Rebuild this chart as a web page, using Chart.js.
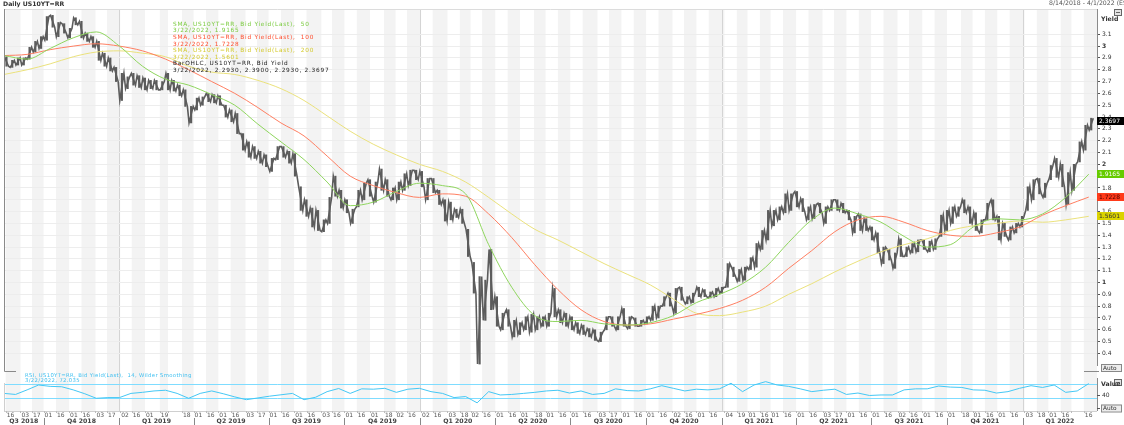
<!DOCTYPE html>
<html><head><meta charset="utf-8">
<script src="https://cdn.jsdelivr.net/npm/chart.js@4.4.1/dist/chart.umd.min.js"></script>
<style>html,body{margin:0;padding:0;background:#fff;}#wrap{width:1124px;height:425px;position:relative;overflow:hidden}canvas{display:block}</style>
</head><body><div id="wrap"><canvas id="c" width="1124" height="425" style="width:1124px;height:425px"></canvas></div>
<script>
// ---------- data ----------
const START = '2018-08-14';
const END = '2022-04-01';
const WEEK_STEP = 7;   // weekly bars (days)
const SMA_STEP = 28;   // SMA samples every 4 weeks
const RSI_STEP = 14;   // RSI samples every 2 weeks

const weekLow = [2.83,2.82,2.84,2.84,2.89,2.95,2.98,3.05,3.16,3.08,3.11,3.07,3.18,3.07,3.04,2.99,2.88,2.83,2.79,2.70,
2.54,2.64,2.67,2.65,2.63,2.64,2.63,2.63,2.63,2.62,2.58,2.49,2.35,2.46,2.50,2.53,2.52,2.50,2.40,2.36,
2.26,2.12,2.06,2.05,2.01,1.98,1.94,2.04,2.06,2.01,1.90,1.61,1.56,1.47,1.44,1.43,1.50,1.73,1.63,1.59,
1.50,1.64,1.70,1.73,1.68,1.78,1.73,1.70,1.70,1.78,1.82,1.87,1.81,1.70,1.76,1.66,1.52,1.53,1.55,1.50,
1.22,0.91,0.31,0.68,0.77,0.63,0.60,0.63,0.54,0.56,0.60,0.58,0.60,0.63,0.63,0.71,0.66,0.63,0.60,0.57,
0.56,0.54,0.51,0.50,0.60,0.63,0.60,0.63,0.61,0.63,0.63,0.65,0.68,0.70,0.80,0.80,0.74,0.85,0.82,0.83,
0.88,0.88,0.87,0.88,0.91,0.96,1.05,1.01,1.02,1.11,1.13,1.28,1.36,1.48,1.53,1.59,1.61,1.64,1.60,1.53,
1.54,1.59,1.50,1.61,1.61,1.59,1.53,1.42,1.44,1.44,1.36,1.25,1.16,1.19,1.12,1.22,1.22,1.25,1.26,1.28,
1.26,1.28,1.39,1.44,1.50,1.56,1.59,1.50,1.44,1.42,1.53,1.53,1.36,1.39,1.36,1.42,1.47,1.61,1.70,1.75,
1.72,1.87,1.89,1.81,1.66,1.78,2.02,2.12,2.29];
const weekHigh = [2.91,2.88,2.90,2.90,2.99,3.04,3.08,3.25,3.26,3.20,3.19,3.15,3.24,3.21,3.11,3.08,3.04,2.94,2.90,2.82,
2.77,2.74,2.77,2.75,2.73,2.71,2.71,2.70,2.77,2.71,2.67,2.63,2.49,2.56,2.57,2.60,2.59,2.58,2.50,2.46,
2.43,2.26,2.19,2.15,2.11,2.08,2.05,2.15,2.15,2.11,2.09,1.81,1.70,1.63,1.61,1.53,1.72,1.90,1.78,1.70,
1.62,1.78,1.84,1.87,1.85,1.96,1.87,1.80,1.85,1.92,1.95,1.95,1.94,1.88,1.88,1.78,1.70,1.68,1.62,1.62,
1.45,1.17,1.05,1.02,1.28,0.88,0.74,0.77,0.68,0.66,0.71,0.73,0.71,0.71,0.74,0.95,0.77,0.74,0.71,0.66,
0.64,0.61,0.60,0.58,0.71,0.71,0.71,0.78,0.71,0.70,0.68,0.71,0.80,0.80,0.88,0.91,0.95,0.96,0.88,0.91,
0.96,0.94,0.92,0.95,0.96,1.16,1.13,1.11,1.13,1.21,1.33,1.44,1.61,1.61,1.64,1.75,1.75,1.77,1.71,1.64,
1.66,1.67,1.64,1.70,1.70,1.67,1.61,1.56,1.58,1.54,1.47,1.42,1.30,1.28,1.25,1.37,1.30,1.33,1.36,1.36,
1.35,1.37,1.57,1.61,1.64,1.64,1.70,1.64,1.59,1.53,1.67,1.70,1.56,1.50,1.47,1.50,1.56,1.81,1.87,1.88,
1.84,1.99,2.05,2.00,1.93,2.00,2.19,2.33,2.39];

const sma50 = [2.92,2.89,2.98,3.07,3.12,3.00,2.83,2.72,2.67,2.59,2.50,2.34,2.19,2.04,1.85,1.65,1.68,1.77,1.84,1.82,
1.75,1.32,0.96,0.72,0.67,0.68,0.65,0.64,0.66,0.72,0.83,0.90,0.99,1.13,1.34,1.53,1.63,1.58,1.51,1.39,
1.30,1.32,1.47,1.54,1.53,1.58,1.72,1.9165];
const sma100 = [2.92,2.93,2.97,3.00,3.02,3.00,2.96,2.89,2.80,2.70,2.60,2.48,2.35,2.24,2.07,1.90,1.82,1.76,1.72,1.75,
1.73,1.58,1.38,1.15,0.94,0.77,0.67,0.64,0.65,0.69,0.73,0.78,0.85,0.96,1.12,1.27,1.43,1.53,1.56,1.51,
1.44,1.40,1.39,1.42,1.47,1.57,1.65,1.7228];
const sma200 = [2.76,2.80,2.85,2.91,2.95,2.96,2.94,2.91,2.83,2.78,2.76,2.71,2.64,2.54,2.41,2.28,2.17,2.08,2.00,1.94,
1.85,1.72,1.58,1.45,1.36,1.26,1.16,1.07,0.98,0.86,0.74,0.72,0.75,0.80,0.90,0.99,1.09,1.18,1.26,1.32,
1.37,1.44,1.48,1.50,1.52,1.51,1.53,1.5601];
const rsi14 = [44,41,54,68,64,63,54,43,30,32,32,44,47,51,53,44,30,44,51,43,
34,26,31,36,40,44,26,33,49,58,44,57,56,58.5,47,56,58.5,49,44,32,
35,17,49,39.5,41,44,47,51,53,45,51,41,44,57,52,51,57,66,58.5,51,
56,54,57,73,49,68,77.6,68,64,57,49,53,56,41,45,38,39.5,39.5,54,57,
57,65,62,61,54,53,45,49,58.5,66,61,68,47,51,72.035];
const rsiLevels = [70, 30];
const lastBar = {date:'3/22/2022', open:2.2930, high:2.3900, low:2.2930, close:2.3697};

const yTicks = [0.4,0.5,0.6,0.7,0.8,0.9,1.0,1.1,1.2,1.3,1.4,1.5,1.6,1.7,1.8,1.9,2.0,2.1,2.2,2.3,2.4,2.5,2.6,2.7,2.8,2.9,3.0,3.1];
const rsiTicks = [40];

const tickDates = ['2018-08-16','2018-09-03','2018-09-17','2018-10-01','2018-10-16','2018-11-01','2018-11-16','2018-12-03','2018-12-17',
'2019-01-02','2019-01-16','2019-02-01','2019-02-19','2019-03-01','2019-03-18','2019-04-01','2019-04-16','2019-05-01','2019-05-16','2019-06-03','2019-06-17',
'2019-07-01','2019-07-16','2019-08-01','2019-08-16','2019-09-03','2019-09-16','2019-10-01','2019-10-16','2019-11-01','2019-11-18','2019-12-02','2019-12-16',
'2020-01-02','2020-01-16','2020-02-03','2020-02-18','2020-03-02','2020-03-16','2020-04-01','2020-04-16','2020-05-01','2020-05-18','2020-06-01','2020-06-16',
'2020-07-01','2020-07-16','2020-08-03','2020-08-17','2020-09-01','2020-09-16','2020-10-01','2020-10-16','2020-11-02','2020-11-16','2020-12-01','2020-12-16',
'2021-01-04','2021-01-19','2021-02-01','2021-02-16','2021-03-01','2021-03-16','2021-04-01','2021-04-16','2021-05-03','2021-05-17','2021-06-01','2021-06-16',
'2021-07-01','2021-07-16','2021-08-02','2021-08-16','2021-09-01','2021-09-16','2021-10-01','2021-10-18','2021-11-01','2021-11-16','2021-12-01','2021-12-16',
'2022-01-03','2022-01-18','2022-02-01','2022-02-16','2022-03-01','2022-03-16'];
const tickLabels = ['16','03','17','01','16','01','16','03','17',
'02','16','01','19','','18','01','16','01','16','03','17',
'01','16','01','16','03','16','01','16','01','18','02','16',
'02','16','03','18','02','16','01','16','01','18','01','16',
'01','16','03','17','01','16','01','16','02','16','01','16',
'04','19','01','16','01','16','01','16','03','17','01','16',
'01','16','02','16','01','16','01','18','01','16','01','16',
'03','18','01','16','','16'];
const quarterLabels = ['Q3 2018','Q4 2018','Q1 2019','Q2 2019','Q3 2019','Q4 2019','Q1 2020','Q2 2020','Q3 2020','Q4 2020','Q1 2021','Q2 2021','Q3 2021','Q4 2021','Q1 2022'];
const quarterStarts = ['2018-07-01','2018-10-01','2019-01-01','2019-04-01','2019-07-01','2019-10-01','2020-01-01','2020-04-01','2020-07-01','2020-10-01','2021-01-01','2021-04-01','2021-07-01','2021-10-01','2022-01-01','2022-04-01'];
const yearStarts = ['2019-01-01','2020-01-01','2021-01-01','2022-01-01'];

// ---------- helpers ----------
function dayOf(s){const a=s.split('-').map(Number);const b=START.split('-').map(Number);
  return Math.round((Date.UTC(a[0],a[1]-1,a[2])-Date.UTC(b[0],b[1]-1,b[2]))/864e5);}
const xMax = dayOf(END);
const barPts = weekLow.map((lo,i)=>({x:i*WEEK_STEP+3, y:[lo, weekHigh[i]]}));
// bar path: each week's range traversed low->high or high->low (by direction of the next week)
const pathPts = [];
weekLow.forEach((lo,i)=>{
  const hi=weekHigh[i];
  const nxt = i+1<weekLow.length ? weekLow[i+1]+weekHigh[i+1] : lo+hi+1;
  const up = nxt >= lo+hi;
  pathPts.push({x:i*WEEK_STEP+0.5, y: up?lo:hi});
  pathPts.push({x:i*WEEK_STEP+5.5, y: up?hi:lo});
});
const pts = (arr,step)=>arr.map((v,i)=>({x:i*step, y:v}));

const C_GREEN='#8fd65e', C_RED='#ff7f62', C_YEL='#ebe27c', C_RSI='#45c8f5', C_BAR='#5c5c5c';
const F = '"DejaVu Sans", Verdana, sans-serif';

const overlay = {
  id:'overlay',
  beforeDraw(chart){
    const {ctx, chartArea:a, scales:{x}} = chart;
    ctx.save();
    ctx.fillStyle='#fff'; ctx.fillRect(0,0,chart.width,chart.height);
    const tds = tickDates.map(dayOf);
    ctx.fillStyle='#f3f3f3';
    for(let i=0;i<tds.length;i+=2){
      const x0=x.getPixelForValue(tds[i]);
      const x1=x.getPixelForValue(i+1<tds.length?tds[i+1]:xMax);
      ctx.fillRect(x0,a.top,x1-x0,a.bottom-a.top);
    }
    ctx.strokeStyle='#d4d4d4'; ctx.lineWidth=1;
    yearStarts.forEach(d=>{const px=Math.round(x.getPixelForValue(dayOf(d)))+0.5;
      ctx.beginPath();ctx.moveTo(px,a.top);ctx.lineTo(px,a.bottom);ctx.stroke();});
    ctx.strokeStyle='#dcdcdc';ctx.beginPath();ctx.moveTo(a.left,a.top+0.5);ctx.lineTo(a.right,a.top+0.5);ctx.stroke();
    ctx.restore();
  },
  beforeDatasetsDraw(chart){
    const {ctx, chartArea:a, scales:{yr}} = chart;
    ctx.save(); ctx.strokeStyle='#7fdcff'; ctx.lineWidth=1;
    rsiLevels.forEach(v=>{const py=Math.round(yr.getPixelForValue(v))+0.5;
      ctx.beginPath();ctx.moveTo(a.left,py);ctx.lineTo(a.right,py);ctx.stroke();});
    ctx.restore();
  },
  afterDraw(chart){
    const {ctx, chartArea:a, scales:{x,y,yr}} = chart;
    ctx.save();
    ctx.textBaseline='middle';
    ctx.strokeStyle='#8a8a8a'; ctx.lineWidth=1;
    ctx.beginPath();ctx.moveTo(a.left+0.5,a.top);ctx.lineTo(a.left+0.5,371.5);ctx.lineTo(a.left+12,371.5);ctx.stroke();
    ctx.beginPath();ctx.moveTo(a.right+0.5,a.top);ctx.lineTo(a.right+0.5,366);ctx.stroke();
    ctx.beginPath();ctx.moveTo(1084,371.5);ctx.lineTo(a.right+2,371.5);ctx.stroke();
    ctx.beginPath();ctx.moveTo(a.right+0.5,378);ctx.lineTo(a.right+0.5,a.bottom);ctx.stroke();
    ctx.strokeStyle='#cfcfcf';
    ctx.beginPath();ctx.moveTo(a.left,a.bottom+0.5);ctx.lineTo(a.right,a.bottom+0.5);ctx.stroke();
    ctx.beginPath();ctx.moveTo(a.left+0.5,383);ctx.lineTo(a.left+0.5,a.bottom);ctx.stroke();

    ctx.fillStyle='#333'; ctx.font='bold 6.2px '+F; ctx.textAlign='left';
    ctx.fillText('Daily US10YT=RR',3,4.5);
    ctx.fillStyle='#555'; ctx.font='6.2px '+F;
    ctx.fillText('8/14/2018 - 4/1/2022 (EST)',1049,3.5);
    const icon=(ix,iy)=>{ctx.fillStyle='#e4e4e4';ctx.fillRect(ix,iy,7,6);ctx.strokeStyle='#666';ctx.strokeRect(ix+0.5,iy+0.5,7,6);
      ctx.beginPath();ctx.moveTo(ix+2,iy+3.5);ctx.lineTo(ix+6,iy+3.5);ctx.stroke();};
    icon(1114,9); icon(1114,379);

    const leg=[['#7acb3e','SMA, US10YT=RR, Bid Yield(Last),  50','3/22/2022, '+sma50[sma50.length-1].toFixed(4)],
      ['#ff4b2b','SMA, US10YT=RR, Bid Yield(Last),  100','3/22/2022, '+sma100[sma100.length-1].toFixed(4)],
      ['#d4ca2c','SMA, US10YT=RR, Bid Yield(Last),  200','3/22/2022, '+sma200[sma200.length-1].toFixed(4)],
      ['#222','BarOHLC, US10YT=RR, Bid Yield',lastBar.date+', '+[lastBar.open,lastBar.high,lastBar.low,lastBar.close].map(v=>v.toFixed(4)).join(', ')]];
    ctx.font='5.8px '+F; ctx.letterSpacing='0.75px';
    leg.forEach((l,i)=>{ctx.fillStyle=l[0];
      ctx.fillText(l[1],173,24.3+i*13.2); ctx.fillText(l[2],173,30.8+i*13.2);});
    ctx.fillStyle='#3dbff0'; ctx.font='5.3px '+F; ctx.letterSpacing='0.35px';
    ctx.fillText('RSI, US10YT=RR, Bid Yield(Last),  14, Wilder Smoothing',25,376);
    ctx.fillText(lastBar.date+', '+rsi14[rsi14.length-1].toFixed(3),25,380.6);
    ctx.letterSpacing='0px';

    ctx.fillStyle='#333'; ctx.font='bold 6.2px '+F;
    ctx.fillText('Yield',1101,19.5);
    ctx.fillText('Value',1101,384);
    ctx.font='6px '+F; ctx.fillStyle='#333'; ctx.strokeStyle='#555';
    rsiTicks.forEach(v=>{const py=Math.round(yr.getPixelForValue(v))+0.5;
      ctx.beginPath();ctx.moveTo(a.right,py);ctx.lineTo(a.right+3,py);ctx.stroke();
      ctx.fillText(String(v),a.right+5,py);});
    ctx.beginPath();ctx.moveTo(a.right,408.5);ctx.lineTo(a.right+3,408.5);ctx.stroke();
    const auto=(bx,by)=>{ctx.fillStyle='#ececec';ctx.fillRect(bx,by,20,7);ctx.strokeStyle='#888';ctx.strokeRect(bx+0.5,by+0.5,20,7);
      ctx.fillStyle='#333';ctx.font='5.8px '+F;ctx.fillText('Auto',bx+2,by+4);};
    auto(1101,364); auto(1101,404.5);

    const tags=[[lastBar.close,'#000','#fff'],[sma50[sma50.length-1],'#66cc00','#fff'],[sma100[sma100.length-1],'#ff3a1a','#4a0000'],[sma200[sma200.length-1],'#dbd300','#333']];
    ctx.font='6px '+F;
    tags.forEach(t=>{const py=y.getPixelForValue(t[0]);ctx.fillStyle=t[1];ctx.fillRect(a.right,Math.round(py)-4,27,8);
      ctx.fillStyle=t[2];ctx.fillText(t[0].toFixed(4),a.right+2,Math.round(py)+0.5);});

    ctx.fillStyle='#555'; ctx.font='6px '+F; ctx.textAlign='left';
    tickDates.forEach((d,i)=>{const px=x.getPixelForValue(dayOf(d));
      ctx.strokeStyle='#bbb';ctx.beginPath();ctx.moveTo(Math.round(px)+0.5,a.bottom);ctx.lineTo(Math.round(px)+0.5,a.bottom+2);ctx.stroke();
      if(tickLabels[i]) ctx.fillText(tickLabels[i],px+1,415.5);});
    ctx.font='bold 6.2px '+F; ctx.textAlign='center'; ctx.fillStyle='#444';
    quarterLabels.forEach((q,i)=>{const s=Math.max(0,dayOf(quarterStarts[i])), e=Math.min(xMax,dayOf(quarterStarts[i+1]));
      const cx=(x.getPixelForValue(s)+x.getPixelForValue(e))/2; ctx.fillText(q,cx,421.5);
      if(i>0){const px=Math.round(x.getPixelForValue(dayOf(quarterStarts[i])))+0.5;ctx.strokeStyle='#888';
        ctx.beginPath();ctx.moveTo(px,418);ctx.lineTo(px,425);ctx.stroke();}});
    ctx.restore();
  }
};

new Chart(document.getElementById('c').getContext('2d'), {
  data:{datasets:[
    {type:'bar', label:'BarOHLC', data:barPts, backgroundColor:C_BAR, barThickness:1.5, yAxisID:'y', order:7},
    {type:'line', label:'BarOHLC path', data:pathPts, borderColor:C_BAR, borderWidth:1.6, pointRadius:0, tension:0, yAxisID:'y', order:6},
    {type:'line', label:'SMA200', data:pts(sma200,SMA_STEP), borderColor:C_YEL, borderWidth:1, pointRadius:0, cubicInterpolationMode:'monotone', yAxisID:'y', order:4},
    {type:'line', label:'SMA100', data:pts(sma100,SMA_STEP), borderColor:C_RED, borderWidth:1, pointRadius:0, cubicInterpolationMode:'monotone', yAxisID:'y', order:3},
    {type:'line', label:'SMA50', data:pts(sma50,SMA_STEP), borderColor:C_GREEN, borderWidth:1, pointRadius:0, cubicInterpolationMode:'monotone', yAxisID:'y', order:2},
    {type:'line', label:'RSI', data:pts(rsi14,RSI_STEP), borderColor:C_RSI, borderWidth:1, pointRadius:0, tension:0, yAxisID:'yr', order:1}
  ]},
  options:{
    responsive:false, animation:false, events:[],
    layout:{padding:{left:4,top:9,right:0,bottom:14}},
    plugins:{legend:{display:false}, tooltip:{enabled:false}},
    scales:{
      x:{type:'linear', min:0, max:xMax, display:false, offset:false},
      y:{type:'linear', position:'right', min:-0.087, max:3.314,
        afterBuildTicks:s=>{s.ticks=yTicks.map(v=>({value:v}));},
        afterFit:s=>{s.width=27;},
        border:{display:false},
        grid:{color:'#ededed', tickColor:'#555', tickLength:3},
        ticks:{autoSkip:false, padding:2, color:'#333',
          callback:v=>String(Number(v.toFixed(1))),
          font:c=>({family:'DejaVu Sans', size:6, weight:(c.tick && Math.abs(c.tick.value-Math.round(c.tick.value))<1e-6)?'bold':'normal'})}},
      yr:{type:'linear', position:'right', min:-6.3, max:1142, display:false}
    }
  },
  plugins:[overlay]
});
</script></body></html>
